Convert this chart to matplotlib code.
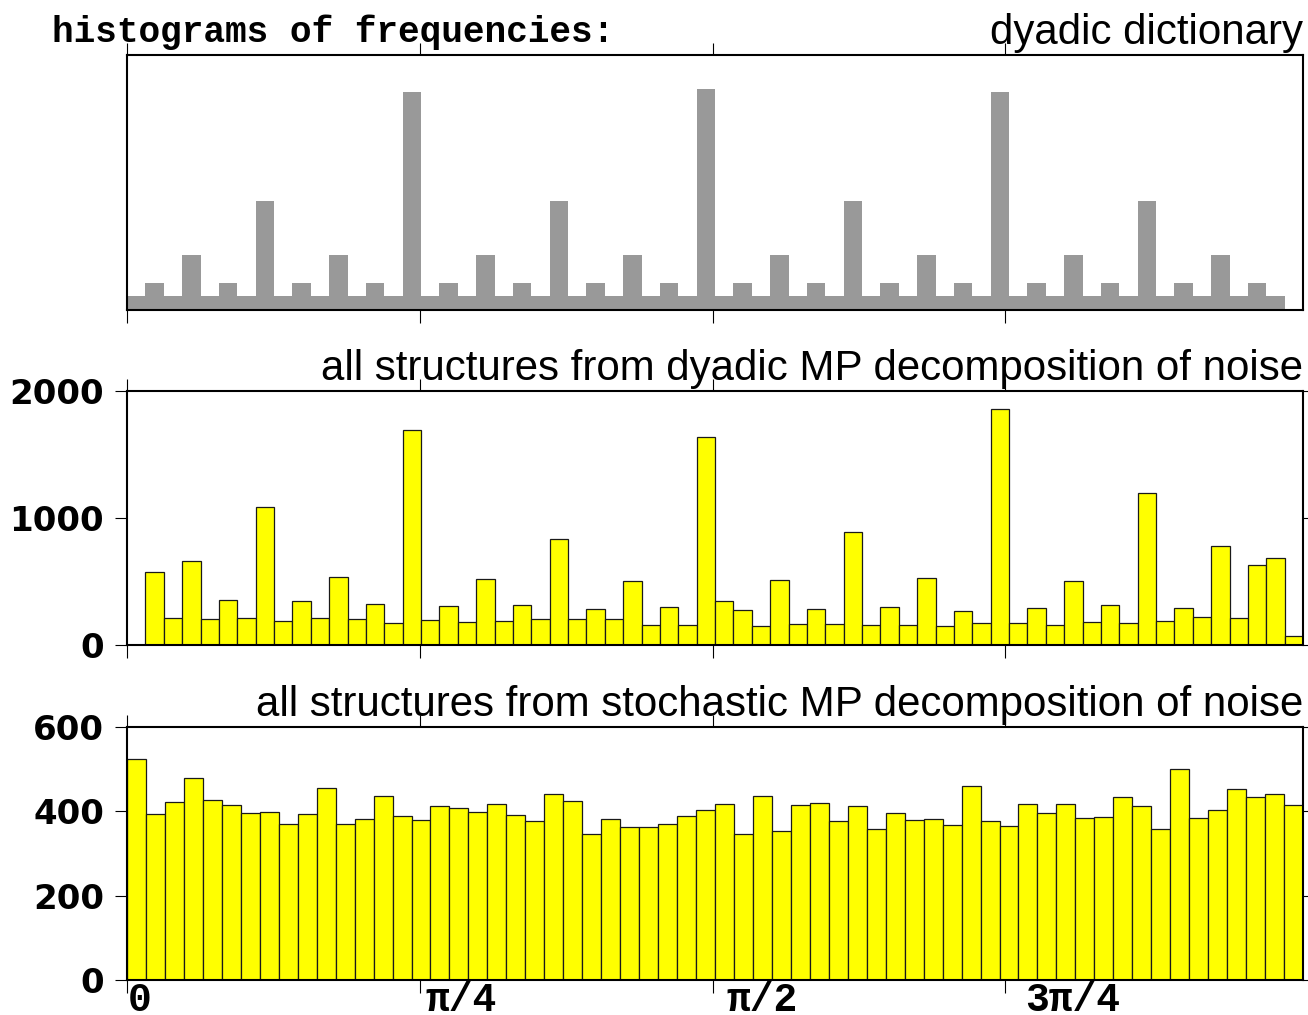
import numpy as np
import matplotlib
matplotlib.use('Agg')
import matplotlib.pyplot as plt
from matplotlib.transforms import ScaledTranslation

# counts per frequency bin (bins run from 0 up to roughly pi)
dyadic_dict = [1, 2, 1, 4, 1, 2, 1, 8, 1, 2, 1, 4, 1, 2, 1, 16,
               1, 2, 1, 4, 1, 2, 1, 8, 1, 2, 1, 4, 1, 2, 1, 16.2,
               1, 2, 1, 4, 1, 2, 1, 8, 1, 2, 1, 4, 1, 2, 1, 16,
               1, 2, 1, 4, 1, 2, 1, 8, 1, 2, 1, 4, 1, 2, 1, 0]

dyadic_noise = [0, 574, 215, 663, 204, 354, 212, 1083, 189, 346, 210, 532, 204, 322, 170, 1693,
                197, 307, 178, 519, 189, 317, 202, 831, 202, 280, 202, 503, 155, 301, 157, 1638,
                346, 275, 152, 511, 168, 286, 163, 886, 160, 296, 155, 529, 147, 265, 170, 1858,
                170, 291, 155, 503, 178, 315, 176, 1198, 191, 288, 220, 781, 215, 632, 687, 68]

stoch_noise = [524, 394, 421, 479, 428, 416, 397, 399, 371, 393, 455, 370, 381, 437, 388, 379,
               412, 407, 399, 418, 391, 377, 442, 425, 346, 381, 364, 362, 370, 388, 403, 417,
               347, 436, 353, 414, 419, 378, 413, 359, 395, 380, 383, 367, 461, 378, 366, 418,
               397, 417, 384, 387, 435, 412, 359, 501, 385, 402, 453, 433, 440, 414, 575]

titles = ["dyadic dictionary",
          "all structures from dyadic MP decomposition of noise",
          "all structures from stochastic MP decomposition of noise"]
header = "histograms of frequencies:"

xticks = [0, np.pi / 4, np.pi / 2, 3 * np.pi / 4]
xticklabels = ["0", "\u03c0/4", "\u03c0/2", "3\u03c0/4"]
yticks_mid = [0, 1000, 2000]
yticks_bot = [0, 200, 400, 600]

xmax = 3.155
nbins_fine = 64
nbins_stoch = 62

fig = plt.figure(figsize=(13.08, 10.15), dpi=100)
L, W = 127 / 1308, 1176 / 1308
ax1 = fig.add_axes([L, 1 - 310 / 1015, W, 255 / 1015])
ax2 = fig.add_axes([L, 1 - 645 / 1015, W, 254 / 1015])
ax3 = fig.add_axes([L, 1 - 980 / 1015, W, 253 / 1015])

w64 = xmax / nbins_fine
w62 = xmax / nbins_stoch
ax1.bar(np.arange(len(dyadic_dict)) * w64, dyadic_dict, width=w64, align='edge',
        color='#999999', linewidth=0)
ax2.bar(np.arange(len(dyadic_noise)) * w64, dyadic_noise, width=w64, align='edge',
        color='#ffff00', edgecolor='#1a1a1a', linewidth=0.9)
ax3.bar(np.arange(len(stoch_noise)) * w62, stoch_noise, width=w62, align='edge',
        color='#ffff00', edgecolor='#1a1a1a', linewidth=0.9)

ax1.set_ylim(0, 18.7)
ax2.set_ylim(0, 2000)
ax3.set_ylim(0, 600)

ytick_font = dict(family='DejaVu Sans', weight='bold', size=24.5)
for ax, title in zip([ax1, ax2, ax3], titles):
    ax.set_xlim(0, xmax)
    ax.set_xticks(xticks)
    for s in ax.spines.values():
        s.set_linewidth(1.5)
    ax.tick_params(axis='x', direction='out', top=True, bottom=True,
                   length=9, width=0.8, labelbottom=False)
    ax.tick_params(axis='y', direction='out', left=True, right=True,
                   length=8.5, width=0.8, pad=8)
    ax.annotate(title, xy=(1, 1), xycoords='axes fraction', xytext=(0, 8),
                textcoords='offset points', ha='right', va='baseline',
                family='Liberation Sans', fontsize=30.25)

ax1.set_yticks([])
ax2.set_yticks(yticks_mid)
ax2.set_yticklabels([str(v) for v in yticks_mid], fontdict=ytick_font)
ax3.set_yticks(yticks_bot)
ax3.set_yticklabels([str(v) for v in yticks_bot], fontdict=ytick_font)

ax3.tick_params(axis='x', labelbottom=True, pad=-8)
ax3.set_xticklabels(xticklabels, family=['Liberation Mono', 'DejaVu Sans Mono'],
                    weight='bold', size=28.5, ha='left')
# labels sit a little to the right of their ticks in the original
for lab, dx in zip(ax3.get_xticklabels(), [1, 6, 14, 20]):
    lab.set_transform(lab.get_transform() + ScaledTranslation(dx / 100, 0, fig.dpi_scale_trans))

ax1.annotate(header, xy=(0, 1), xycoords='axes fraction', xytext=(-54, 9),
             textcoords='offset points', ha='left', va='baseline',
             family=['Liberation Mono', 'DejaVu Sans Mono'], weight='bold', fontsize=26)

fig.savefig('out.png', dpi=100)
